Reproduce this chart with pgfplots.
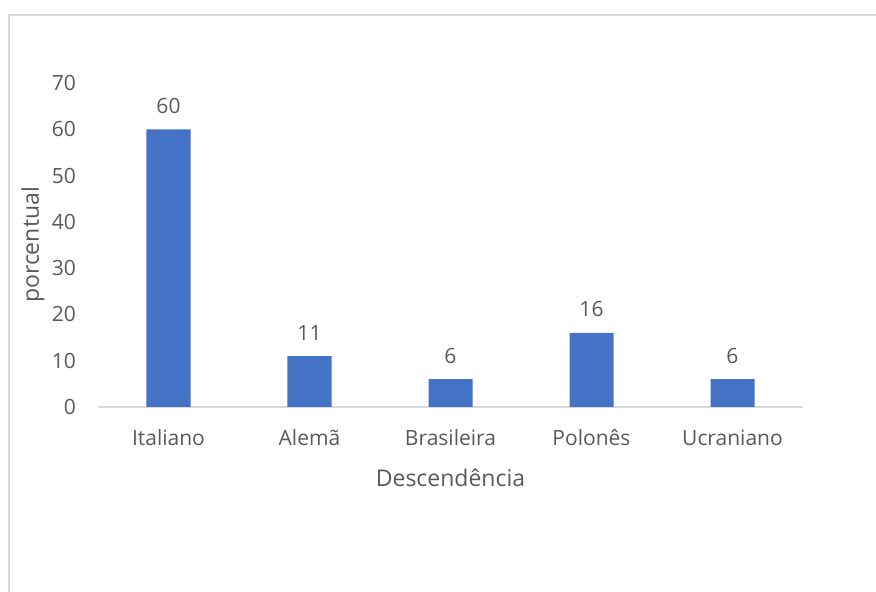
\documentclass[border=0pt]{standalone}
\usepackage{pgfplots}
\pgfplotsset{compat=1.18}
\usepackage{fontspec}
\setmainfont{Open Sans}
\definecolor{barblue}{HTML}{4472C4}
\definecolor{txtgray}{HTML}{595959}
\definecolor{framegray}{HTML}{D9D9D9}
\begin{document}
\begin{tikzpicture}[x=1pt,y=1pt]
  % page extent and the chart frame
  \path[use as bounding box] (0,0) rectangle (876,592);
  \draw[framegray, line width=1.5pt] (9,-1) -- (9,577) -- (877,577);
  \begin{axis}[
    at={(98pt,185pt)}, anchor=south west,
    scale only axis, width=705pt, height=324pt,
    xmin=-0.5, xmax=4.5, ymin=0, ymax=70,
    ybar, bar width=44pt,
    xtick={0,1,2,3,4},
    xticklabels={Italiano,Alemã,Brasileira,Polonês,Ucraniano},
    ytick={0,10,...,70},
    major tick length=0pt,
    axis x line*=bottom, axis y line*=left,
    x axis line style={framegray, line width=1.3pt, -},
    y axis line style={draw=none},
    /pgf/number format/assume math mode=true,
    tick label style={font=\fontsize{21}{24}\selectfont, text=txtgray},
    xticklabel style={anchor=base, inner sep=0pt, yshift=-39pt},
    yticklabel style={anchor=east, inner sep=0pt, xshift=-22pt},
    xlabel={Descendência}, ylabel={porcentual},
    label style={font=\fontsize{23}{26}\selectfont, text=txtgray},
    xlabel style={at={(axis description cs:0.5,0)}, anchor=center, yshift=-71pt},
    ylabel style={at={(axis description cs:0,0.5)}, anchor=center, rotate=0, yshift=65pt},
    nodes near coords,
    every node near coord/.append style={font=\fontsize{21}{24}\selectfont, text=txtgray, anchor=base, inner sep=0pt, yshift=16pt},
    clip=false,
  ]
    \addplot[fill=barblue, draw=none] coordinates {(0,60) (1,11) (2,6) (3,16) (4,6)};
  \end{axis}
\end{tikzpicture}
\end{document}
